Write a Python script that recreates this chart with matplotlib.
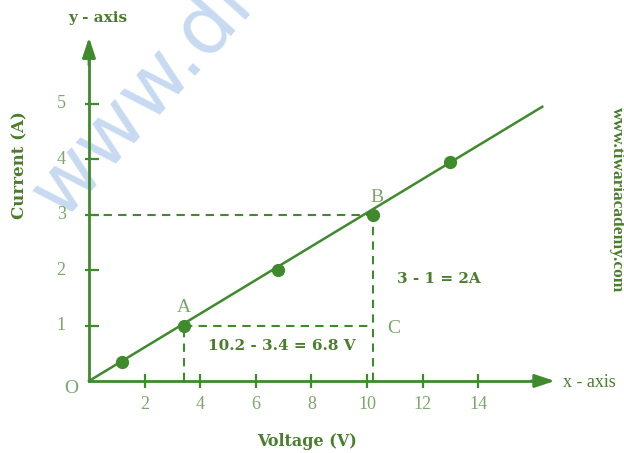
import matplotlib
matplotlib.use('Agg')
import matplotlib.pyplot as plt

# measured points on the V-I graph
voltage = [1.2, 3.4, 6.8, 10.2, 13.0]
current = [0.35, 1.0, 2.0, 3.0, 3.95]
line_x = [0, 16.3]
line_y = [0, 4.95]
x_ticks = [2, 4, 6, 8, 10, 12, 14]
y_ticks = [1, 2, 3, 4, 5]
point_a = (3.4, 1.0)
point_b = (10.2, 3.0)

green = '#3f8a2c'
text_green = '#4a7d2c'
tick_green = '#7da56c'
serif = 'Liberation Serif'
wide = 'DejaVu Serif'

fig = plt.figure(figsize=(6.24, 4.53), dpi=100)
ax = fig.add_axes([0, 0, 1, 1])
ax.set_xlim(-3.2, 19.24)
ax.set_ylim(-1.30, 6.877)
ax.axis('off')

# watermark (cut off by the top edge, as in the original)
ax.text(-0.97, 2.91, 'www.dr', color='#c7daf1', fontsize=58, family='DejaVu Sans',
        rotation=48, rotation_mode='anchor', ha='left', va='baseline', zorder=0)

# axes with arrow heads
ax.plot([0, 16.0], [0, 0], color=green, lw=2, zorder=2)
ax.plot([0, 0], [0, 5.9], color=green, lw=2, zorder=2)
ax.annotate('', xy=(16.75, 0), xytext=(15.9, 0),
            arrowprops=dict(arrowstyle='-|>,head_length=1.2,head_width=0.4',
                            color=green, lw=2, shrinkA=0, shrinkB=0))
ax.annotate('', xy=(0, 6.2), xytext=(0, 5.7),
            arrowprops=dict(arrowstyle='-|>,head_length=1.2,head_width=0.4',
                            color=green, lw=2, shrinkA=0, shrinkB=0))

# ticks
ax.plot(x_ticks, [0] * len(x_ticks), ls='none', marker='|', ms=10, mew=1.6, color=green)
ax.plot([0.1] * len(y_ticks), y_ticks, ls='none', marker='_', ms=10, mew=1.6, color=green)
for t in x_ticks:
    ax.text(t, -0.42, str(t), ha='center', va='center', fontsize=13,
            family=serif, color=tick_green)
for t in y_ticks:
    ax.text(-1.0, t, str(t), ha='center', va='center', fontsize=13,
            family=serif, color=tick_green)
ax.text(-0.65, -0.13, 'O', ha='center', va='center', fontsize=14,
        family=serif, color=tick_green)

# dashed construction lines
dash = dict(color=green, lw=1.5, ls=(0, (4, 3)))
ax.plot([0, point_b[0]], [point_b[1], point_b[1]], **dash)
ax.plot([point_b[0], point_b[0]], [0, point_b[1]], **dash)
ax.plot([point_a[0], point_b[0]], [point_a[1], point_a[1]], **dash)
ax.plot([point_a[0], point_a[0]], [0, point_a[1]], **dash)

# data line and points
ax.plot(line_x, line_y, color=green, lw=1.8, zorder=3)
ax.plot(voltage, current, ls='none', marker='o', ms=8.5, color=green, zorder=4)

# point labels
ax.text(point_a[0], point_a[1] + 0.33, 'A', ha='center', va='center',
        fontsize=14, family=serif, color=tick_green)
ax.text(point_b[0] + 0.15, point_b[1] + 0.32, 'B', ha='center', va='center',
        fontsize=14, family=serif, color=tick_green)
ax.text(point_b[0] + 0.75, point_a[1] - 0.05, 'C', ha='center', va='center',
        fontsize=14, family=serif, color=tick_green)

ax.text(6.95, 0.63, '10.2 - 3.4 = 6.8 V', ha='center', va='center', fontsize=11,
        family=wide, weight='bold', color=text_green)
ax.text(12.6, 1.84, '3 - 1 = 2A', ha='center', va='center', fontsize=11,
        family=wide, weight='bold', color=text_green)

# axis titles
ax.text(0.3, 6.56, 'y - axis', ha='center', va='center', fontsize=11,
        family=wide, weight='bold', color=text_green)
ax.text(18.0, -0.02, 'x - axis', ha='center', va='center', fontsize=13,
        family=serif, color=text_green)
ax.text(7.85, -1.09, 'Voltage (V)', ha='center', va='center', fontsize=11.5,
        family=wide, weight='bold', color=text_green)
ax.text(-2.5, 3.9, 'Current (A)', ha='center', va='center', fontsize=12,
        family=wide, weight='bold', color=text_green, rotation=90)
ax.text(19.0, 3.27, 'www.tiwariacademy.com', ha='center', va='center', fontsize=12.5,
        family=serif, weight='bold', color=text_green, rotation=-90)

plt.savefig('out.png', dpi=100)
